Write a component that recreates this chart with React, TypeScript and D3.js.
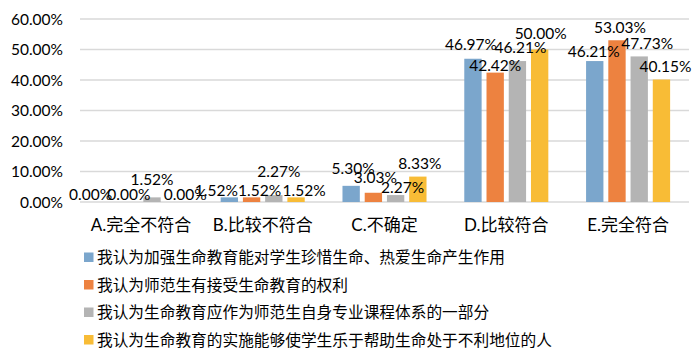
import { useEffect, useRef } from "react"
import * as d3 from "d3"

const categories = ["A.完全不符合", "B.比较不符合", "C.不确定", "D.比较符合", "E.完全符合"]
const seriesNames = [
  "我认为加强生命教育能对学生珍惜生命、热爱生命产生作用",
  "我认为师范生有接受生命教育的权利",
  "我认为生命教育应作为师范生自身专业课程体系的一部分",
  "我认为生命教育的实施能够使学生乐于帮助生命处于不利地位的人",
]
const s1 = [0.0, 1.52, 5.3, 46.97, 46.21]
const s2 = [0.0, 1.52, 3.03, 42.42, 53.03]
const s3 = [1.52, 2.27, 2.27, 46.21, 47.73]
const s4 = [0.0, 1.52, 8.33, 50.0, 40.15]
const yTicks = [0, 10, 20, 30, 40, 50, 60]

const colors = ["#7BA6CC", "#ED8240", "#B4B4B4", "#F8BC36"]
// label nudges [dx, dy] per series per category (Excel moved overlapping labels)
const nudges = [
  [[-17, -2], [-13, -1], [2, -12], [-2, -9], [-1, -4]],
  [[-1, -2], [8, -1], [2, -10], [0, -2], [3, -7]],
  [[0, -12], [5, -18], [7, -2], [3, -8], [8, -7]],
  [[11, -2], [8, -1], [2, -8], [1, -11], [4, -8]],
]

const App = () => {
  const svgRef = useRef<SVGSVGElement>(null)

  useEffect(() => {
    const svg = d3.select(svgRef.current)
    svg.selectAll("*").remove()
    const font = "Lato, 'Noto Sans CJK SC', sans-serif"
    const left = 80, right = 689, top = 19, bottom = 202
    const series = [s1, s2, s3, s4]

    const x0 = d3.scaleBand<string>().domain(categories).range([left, right]).paddingInner(0.31).paddingOuter(0.155)
    const x1 = d3.scaleBand<number>().domain([0, 1, 2, 3]).range([0, x0.bandwidth()]).paddingInner(0.22)
    const y = d3.scaleLinear().domain([0, 60]).range([bottom, top])

    svg.append("g").selectAll("line").data(yTicks).join("line")
      .attr("x1", left).attr("x2", right)
      .attr("y1", d => y(d)).attr("y2", d => y(d))
      .attr("stroke", "#d9d9d9").attr("stroke-width", 1.3)

    svg.append("g").selectAll("text").data(yTicks).join("text")
      .attr("x", 63).attr("y", d => y(d) + 5.5)
      .attr("text-anchor", "end").attr("font-size", 15.5).attr("font-family", font).attr("fill", "#000")
      .text(d => d.toFixed(2) + "%")

    const bars = svg.append("g")
    series.forEach((vals, si) => {
      bars.append("g").selectAll("rect").data(vals).join("rect")
        .attr("x", (d, i) => x0(categories[i])! + x1(si)!)
        .attr("width", x1.bandwidth())
        .attr("y", d => y(d))
        .attr("height", d => y(0) - y(d))
        .attr("fill", colors[si])
    })
    const labels = svg.append("g")
    series.forEach((vals, si) => {
      labels.append("g").selectAll("text").data(vals).join("text")
        .attr("x", (d, i) => x0(categories[i])! + x1(si)! + x1.bandwidth() / 2 + nudges[si][i][0])
        .attr("y", (d, i) => y(d) + nudges[si][i][1])
        .attr("text-anchor", "middle").attr("font-size", 15.5).attr("font-family", font).attr("fill", "#000")
        .text(d => d.toFixed(2) + "%")
    })

    svg.append("g").selectAll("text").data(categories).join("text")
      .attr("x", d => x0(d)! + x0.bandwidth() / 2).attr("y", 231)
      .attr("text-anchor", "middle").attr("font-size", 17).attr("font-family", font).attr("fill", "#000")
      .text(d => d)

    const legend = svg.append("g").selectAll("g").data(seriesNames).join("g")
      .attr("transform", (d, i) => `translate(84, ${257 + i * 27.5})`)
    legend.append("rect").attr("x", 0).attr("y", -4.5).attr("width", 9.5).attr("height", 9.5)
      .attr("fill", (d, i) => colors[i])
    legend.append("text").attr("x", 13).attr("y", 6)
      .attr("font-size", 15.7).attr("font-family", font).attr("fill", "#000")
      .text(d => d)
  }, [])

  return (
    <div style={{ position: "absolute", left: 0, top: 0 }}>
      <svg ref={svgRef} width={700} height={359} style={{ display: "block", background: "#fff" }} />
    </div>
  )
}
export default App
